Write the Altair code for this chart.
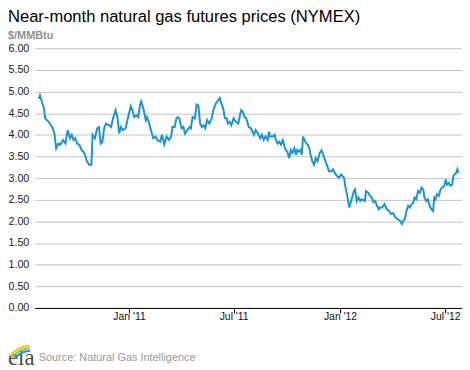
import altair as alt
import pandas as pd

title_text = ["Near-month natural gas futures prices (NYMEX)"]
unit_text = ["$/MMBtu"]
source_text = ["Source: Natural Gas Intelligence"]
logo_text = ["eia"]

# days relative to 2011-01-01
days = [-156,-154,-147,-145,-139,-133,-129,-126,-122,-119,
        -114,-110,-106,-102,-99,-96,-93,-90,-86,-82,
        -79,-76,-73,-69,-65,-63,-59,-55,-52,-49,
        -46,-43,-40,-34,-31,-27,-23,-20,-17,-14,
        -11,-6,-2,3,6,9,13,16,19,21,
        25,29,31,34,37,42,46,49,54,57,
        61,65,69,73,75,79,82,84,87,91,
        94,97,101,105,107,110,114,117,120,123,
        126,129,132,135,139,143,146,150,154,157,
        160,163,166,169,171,174,177,181,185,189,
        192,194,197,200,203,207,211,216,219,223,
        227,230,233,236,240,242,244,249,252,254,
        257,260,263,266,269,271,274,277,280,283,
        286,289,291,294,297,299,301,305,309,312,
        314,317,320,323,326,330,333,336,339,343,
        346,350,353,356,360,363,367,372,374,377,
        381,385,389,391,394,397,400,403,408,410,
        414,417,420,423,426,429,432,434,438,442,
        446,450,453,457,461,465,469,472,474,477,
        480,483,486,489,492,494,497,500,503,506,
        509,511,514,517,520,523,526,528,530,533,
        536,539,542,545,548,550,553,556,559,561,
        563,566,568,570]

prices = [4.83,4.91,4.61,4.38,4.30,4.18,4.03,3.69,3.80,3.77,
          3.88,3.80,4.11,3.92,4.00,3.88,3.92,3.80,3.77,3.65,
          3.61,3.54,3.39,3.31,3.31,4.00,3.92,4.15,4.18,3.80,
          3.84,4.15,4.26,4.22,4.18,4.41,4.57,4.41,4.03,4.18,
          4.11,4.15,4.38,4.66,4.57,4.41,4.45,4.41,4.68,4.77,
          4.60,4.34,4.41,4.30,4.15,3.92,3.96,3.88,3.84,4.00,
          3.78,3.96,3.88,3.96,4.18,4.18,4.38,4.41,4.38,4.15,
          4.18,4.03,4.11,4.18,4.15,4.41,4.38,4.70,4.68,4.26,
          4.18,4.22,4.15,4.34,4.26,4.38,4.57,4.72,4.79,4.85,
          4.72,4.60,4.38,4.38,4.26,4.30,4.22,4.38,4.30,4.26,
          4.45,4.57,4.53,4.41,4.38,4.18,4.15,4.00,4.11,4.03,
          3.92,4.00,3.88,3.96,3.88,4.07,3.96,3.96,4.00,3.88,
          3.80,3.84,3.77,3.88,3.73,3.65,3.61,3.46,3.65,3.58,
          3.69,3.54,3.65,3.61,3.65,3.54,3.96,3.84,3.77,3.69,
          3.54,3.39,3.31,3.46,3.39,3.58,3.64,3.54,3.42,3.27,
          3.16,3.16,3.20,3.12,3.04,3.01,3.08,3.01,2.82,2.63,
          2.32,2.51,2.70,2.74,2.47,2.55,2.47,2.51,2.47,2.70,
          2.66,2.59,2.55,2.44,2.47,2.36,2.28,2.32,2.32,2.40,
          2.28,2.24,2.17,2.19,2.09,2.05,2.01,1.94,2.01,2.05,
          2.24,2.36,2.32,2.40,2.44,2.55,2.51,2.70,2.66,2.78,
          2.74,2.55,2.47,2.51,2.36,2.28,2.24,2.55,2.51,2.63,
          2.59,2.74,2.78,2.82,2.97,2.85,2.89,2.82,2.85,3.04,
          3.08,3.12,3.20,3.12]

y_ticks = [0, 0.5, 1, 1.5, 2, 2.5, 3, 3.5, 4, 4.5, 5, 5.5, 6]

dates = pd.Timestamp("2011-01-01") + pd.to_timedelta(days, unit="D")
df = pd.DataFrame({"date": dates.strftime("%Y-%m-%dT00:00:00"), "price": prices})

FONT = "Liberation Sans"

line = alt.Chart(df).mark_line(color="#1a95d3", strokeWidth=2).encode(
    x=alt.X(
        "date:T",
        scale=alt.Scale(domain=[alt.DateTime(year=2010, month=7, date=22),
                                alt.DateTime(year=2012, month=7, date=30)]),
        axis=alt.Axis(
            values=[alt.DateTime(year=2011, month=1, date=1),
                    alt.DateTime(year=2011, month=7, date=1),
                    alt.DateTime(year=2012, month=1, date=1),
                    alt.DateTime(year=2012, month=7, date=1)],
            format="%b '%y", title=None, grid=False,
            domainColor="#000000", domainWidth=1,
            tickColor="#000000", tickSize=5, tickWidth=1,
            labelColor="#111111", labelFont=FONT, labelFontSize=10.5,
            labelPadding=-1,
        ),
    ),
    y=alt.Y(
        "price:Q",
        scale=alt.Scale(domain=[0, 6], nice=False),
        axis=alt.Axis(
            values=y_ticks, format=".2f", title=None,
            ticks=False, tickSize=0, domain=False,
            gridColor="#c4c4c4", gridWidth=1,
            labelColor="#222222", labelFont=FONT, labelFontSize=10.8,
            labelPadding=6,
        ),
    ),
)

title = alt.Chart(pd.DataFrame({"t": title_text})).mark_text(
    align="left", baseline="alphabetic", font=FONT, fontSize=16.7, color="#000000"
).encode(text="t:N", x=alt.value(-27), y=alt.value(-26))

unit = alt.Chart(pd.DataFrame({"t": unit_text})).mark_text(
    align="left", baseline="alphabetic", font=FONT, fontSize=11, fontWeight="bold", color="#8f8f8f"
).encode(text="t:N", x=alt.value(-27), y=alt.value(-9.5))

source = alt.Chart(pd.DataFrame({"t": source_text})).mark_text(
    align="left", baseline="middle", font=FONT, fontSize=11, color="#999999"
).encode(text="t:N", x=alt.value(4), y=alt.value(313))

logo = alt.Chart(pd.DataFrame({"t": logo_text})).mark_text(
    align="left", baseline="alphabetic", font="Liberation Serif", fontSize=23, color="#4a4a4a"
).encode(text="t:N", x=alt.value(-27), y=alt.value(320))

arc_yellow = alt.Chart(pd.DataFrame({"t": logo_text})).mark_arc(color="#f2c314").encode(
    x=alt.value(-3), y=alt.value(328), radius=alt.value(29), radius2=alt.value(27),
    theta=alt.value(5.4), theta2=alt.value(6.2))
arc_green = alt.Chart(pd.DataFrame({"t": logo_text})).mark_arc(color="#8cc63f").encode(
    x=alt.value(-3), y=alt.value(328), radius=alt.value(26.5), radius2=alt.value(24.5),
    theta=alt.value(5.4), theta2=alt.value(6.2))
arc_blue = alt.Chart(pd.DataFrame({"t": logo_text})).mark_arc(color="#1a95d3").encode(
    x=alt.value(-3), y=alt.value(328), radius=alt.value(24), radius2=alt.value(22),
    theta=alt.value(5.4), theta2=alt.value(6.2))

chart = alt.layer(line, title, unit, source, logo, arc_yellow, arc_green, arc_blue).properties(
    width=431, height=262,
    padding={"left": 27, "top": 39, "right": 0, "bottom": 60},
    autosize=alt.AutoSizeParams(type="none"),
).configure_view(stroke=None)

chart.save("out.html", embed_options={"renderer": "svg", "actions": False})
